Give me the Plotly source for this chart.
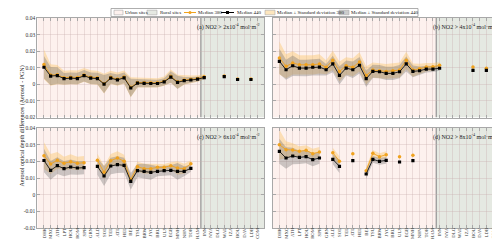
import plotly.graph_objects as go

stations = ["DHK", "MXC", "ATH", "LPT", "HOU", "ROM", "SPR", "GRN", "ALD", "SOL", "TEL",
            "ATL", "HEL", "BEI", "TSU", "BRW", "JYC", "BRU", "ULS", "EGB", "MNH", "NHV",
            "TOR", "HAM", "INN", "NYA", "DLG", "WAL", "IZA", "BOU", "DAV", "LDB", "COM"]
n_urban = 24
yticks = [0.04, 0.03, 0.02, 0.01, 0, -0.01, -0.02]
ytick_text = ["0.04", "0.03", "0.02", "0.01", "0", "-0.01", "-0.02"]
N = None

# Panel (a) NO2 > 2e-4
med440_a = [0.0103, 0.0050, 0.0053, 0.0034, 0.0037, 0.0035, 0.0052, 0.0037, 0.0035, 0.0001, 0.0037,
            0.0027, 0.0039, -0.0022, 0.0007, 0.0006, 0.0005, 0.0005, 0.0015, 0.0044, 0.0012, 0.0022,
            0.0026, 0.0031, 0.0041, N, N, 0.0047, N, 0.0029, N, 0.0029, N]
med380_a = [0.0120, 0.0056, 0.0058, 0.0040, 0.0043, 0.0041, 0.0057, 0.0043, 0.0040, 0.0004, 0.0042,
            0.0032, 0.0044, -0.0018, 0.0011, 0.0010, 0.0009, 0.0009, 0.0019, 0.0049, 0.0016, 0.0026,
            0.0030, 0.0035, 0.0046, N, N, 0.0050, N, 0.0032, N, 0.0032, N]
std440_a = [0.0068, 0.0055, 0.0050, 0.0035, 0.0035, 0.0035, 0.0035, 0.0035, 0.0035, 0.0055, 0.0032,
            0.0032, 0.0032, 0.0055, 0.0025, 0.0025, 0.0022, 0.0022, 0.0022, 0.0035, 0.0040, 0.0022,
            0.0018, 0.0014, 0.0010, N, N, 0, N, 0, N, 0, N]
std380_a = [0.0090, 0.0065, 0.0058, 0.0042, 0.0042, 0.0042, 0.0042, 0.0042, 0.0042, 0.0060, 0.0040,
            0.0040, 0.0040, 0.0060, 0.0030, 0.0030, 0.0028, 0.0028, 0.0028, 0.0040, 0.0042, 0.0028,
            0.0024, 0.0020, 0.0015, N, N, 0, N, 0, N, 0, N]

# Panel (b) NO2 > 4e-4
med440_b = [0.0139, 0.0088, 0.0112, 0.0098, 0.0098, 0.0103, 0.0104, 0.0088, 0.0123, 0.0054, 0.0098,
            0.0088, 0.0115, 0.0034, 0.0078, 0.0076, 0.0066, 0.0066, 0.0076, 0.0123, 0.0078, 0.0082,
            0.0092, 0.0092, 0.0097, N, N, N, N, 0.0084, N, 0.0084, N]
med380_b = [0.0159, 0.0109, 0.0129, 0.0118, 0.0118, 0.0118, 0.0123, 0.0103, 0.0145, 0.0078, 0.0112,
            0.0103, 0.0135, 0.0054, 0.0086, 0.0082, 0.0078, 0.0082, 0.0086, 0.0145, 0.0086, 0.0094,
            0.0104, 0.0106, 0.0115, N, N, N, N, 0.0104, N, 0.0097, N]
std440_b = [0.0075, 0.0060, 0.0062, 0.0050, 0.0050, 0.0050, 0.0050, 0.0035, 0.0050, 0.0055, 0.0045,
            0.0050, 0.0050, 0.0050, 0.0040, 0.0040, 0.0040, 0.0040, 0.0040, 0.0045, 0.0035, 0.0025,
            0.0020, 0.0018, 0.0015, N, N, N, N, 0, N, 0, N]
std380_b = [0.0100, 0.0072, 0.0070, 0.0058, 0.0058, 0.0058, 0.0058, 0.0042, 0.0058, 0.0060, 0.0052,
            0.0055, 0.0058, 0.0055, 0.0045, 0.0045, 0.0045, 0.0045, 0.0045, 0.0052, 0.0040, 0.0030,
            0.0025, 0.0022, 0.0018, N, N, N, N, 0, N, 0, N]

# Panel (c) NO2 > 6e-4
med440_c = [0.0205, 0.0146, 0.0174, 0.0156, 0.0166, 0.0160, 0.0162, N, 0.0170, 0.0112, 0.0172,
            0.0180, 0.0176, 0.0080, 0.0144, 0.0140, 0.0134, 0.0140, 0.0144, 0.0146, 0.0140, 0.0140,
            0.0158, N, N, N, N, N, N, N, N, N, N]
med380_c = [0.0234, 0.0184, 0.0206, 0.0188, 0.0198, 0.0188, 0.0192, N, 0.0206, 0.0134, 0.0204,
            0.0220, 0.0200, 0.0090, 0.0168, 0.0156, 0.0156, 0.0164, 0.0164, 0.0174, 0.0160, 0.0156,
            0.0186, N, N, N, N, N, N, N, N, N, N]
std440_c = [0.0070, 0.0056, 0.0050, 0.0045, 0.0045, 0.0040, 0.0040, N, 0.0050, 0.0060, 0.0050,
            0.0050, 0.0045, 0.0050, 0.0040, 0.0045, 0.0045, 0.0030, 0.0030, 0.0030, 0.0050, 0.0030,
            0.0020, N, N, N, N, N, N, N, N, N, N]
std380_c = [0.0080, 0.0060, 0.0050, 0.0040, 0.0045, 0.0040, 0.0040, N, 0.0040, 0.0040, 0.0040,
            0.0040, 0.0040, 0.0020, 0.0030, 0.0030, 0.0030, 0.0020, 0.0020, 0.0020, 0.0040, 0.0030,
            0.0020, N, N, N, N, N, N, N, N, N, N]

# Panel (d) NO2 > 8e-4
med440_d = [0.0260, 0.0220, 0.0232, 0.0224, 0.0228, 0.0210, 0.0220, N, 0.0212, 0.0170, N,
            0.0204, N, 0.0124, 0.0212, 0.0200, 0.0206, N, 0.0196, N, 0.0204, N,
            N, N, N, N, N, N, N, N, N, N, N]
med380_d = [0.0300, 0.0270, 0.0268, 0.0260, 0.0266, 0.0246, 0.0256, N, 0.0252, 0.0200, N,
            0.0246, N, 0.0144, 0.0248, 0.0228, 0.0240, N, 0.0228, N, 0.0236, N,
            N, N, N, N, N, N, N, N, N, N, N]
std440_d = [0.0075, 0.0065, 0.0050, 0.0040, 0.0040, 0.0040, 0.0035, N, 0.0030, 0.0040, N,
            0, N, 0.0030, 0.0020, 0.0020, 0.0020, N, 0, N, 0, N,
            N, N, N, N, N, N, N, N, N, N, N]
std380_d = [0.0090, 0.0050, 0.0040, 0.0030, 0.0030, 0.0030, 0.0030, N, 0.0030, 0.0030, N,
            0, N, 0.0020, 0.0020, 0.0020, 0.0020, N, 0, N, 0, N,
            N, N, N, N, N, N, N, N, N, N, N]

panels = [
    ("(a) NO2 > 2x10<sup>-4</sup> mol·m<sup>-2</sup>", med380_a, med440_a, std380_a, std440_a),
    ("(b) NO2 > 4x10<sup>-4</sup> mol·m<sup>-2</sup>", med380_b, med440_b, std380_b, std440_b),
    ("(c) NO2 > 6x10<sup>-4</sup> mol·m<sup>-2</sup>", med380_c, med440_c, std380_c, std440_c),
    ("(d) NO2 > 8x10<sup>-4</sup> mol·m<sup>-2</sup>", med380_d, med440_d, std380_d, std440_d),
]

W, H = 500, 242
FONT = "Liberation Serif"
ORANGE = "#f0a21e"
BAND380 = "rgba(250,200,110,0.45)"
BAND440 = "rgba(110,110,110,0.35)"
URBAN = "#fdf1ee"
RURAL = "#e5e9e2"
FRAME = "#a8a8a8"

xdom = [[29.3 / W, 256.3 / W], [264.7 / W, 491.7 / W]]
ydom = [[1 - 109.5 / H, 1 - 10 / H], [1 - 220 / H, 1 - 120 / H]]

xs = list(range(1, len(stations) + 1))


def runs(vals):
    out, cur = [], []
    for i, v in enumerate(vals):
        if v is None:
            if cur:
                out.append(cur)
            cur = []
        else:
            cur.append(i)
    if cur:
        out.append(cur)
    return out


def band(med, std):
    bx, by = [], []
    for r in runs(med):
        if len(r) < 2:
            continue
        bx += [xs[i] for i in r] + [xs[i] for i in reversed(r)] + [None]
        by += [med[i] + std[i] for i in r] + [med[i] - std[i] for i in reversed(r)] + [None]
    return bx, by


fig = go.Figure()
shapes = []
annotations = []
layout = {}

for k, (title, m380, m440, s380, s440) in enumerate(panels):
    row, col = divmod(k, 2)
    sfx = "" if k == 0 else str(k + 1)
    xa, ya = "x" + sfx, "y" + sfx
    bottom = row == 1
    left = col == 0
    layout["xaxis" + sfx] = dict(
        domain=xdom[col], anchor=ya, range=[0, len(stations) + 1],
        tickmode="array", tickvals=xs, ticktext=stations,
        showticklabels=bottom, tickangle=-90, ticklabelstandoff=-3,
        tickfont=dict(family=FONT, size=4.8, color="#333"),
        ticks="inside", ticklen=3, tickcolor=FRAME, tickwidth=0.7,
        showline=True, linecolor=FRAME, linewidth=1, mirror="allticks",
        showgrid=True, gridcolor="rgba(200,175,175,0.35)", gridwidth=0.7,
        zeroline=False, automargin=False,
    )
    layout["yaxis" + sfx] = dict(
        domain=ydom[row], anchor=xa, range=[-0.02, 0.04],
        tickmode="array", tickvals=yticks, ticktext=ytick_text,
        showticklabels=left, tickfont=dict(family=FONT, size=5.5, color="#333"),
        ticks="inside", ticklen=3, tickcolor=FRAME, tickwidth=0.7,
        showline=True, linecolor=FRAME, linewidth=1, mirror="allticks",
        showgrid=True, gridcolor="rgba(200,175,175,0.35)", gridwidth=0.7,
        zeroline=False, automargin=False,
    )
    shapes.append(dict(type="rect", xref=xa, yref=ya, x0=0, x1=n_urban + 0.5,
                       y0=-0.02, y1=0.04, fillcolor=URBAN, line=dict(width=0), layer="below"))
    shapes.append(dict(type="rect", xref=xa, yref=ya, x0=n_urban + 0.5,
                       x1=len(stations) + 1, y0=-0.02, y1=0.04, fillcolor=RURAL,
                       line=dict(width=0), layer="below"))
    shapes.append(dict(type="line", xref=xa, yref=ya, x0=n_urban + 0.5,
                       x1=n_urban + 0.5, y0=-0.02, y1=0.04, line=dict(color="#9a9a9a", width=1.3),
                       layer="below"))

    bx, by = band(m380, s380)
    fig.add_trace(go.Scatter(x=bx, y=by, xaxis=xa, yaxis=ya, fill="toself", mode="lines",
                             line=dict(width=0), fillcolor=BAND380, hoverinfo="skip",
                             showlegend=False))
    bx, by = band(m440, s440)
    fig.add_trace(go.Scatter(x=bx, y=by, xaxis=xa, yaxis=ya, fill="toself", mode="lines",
                             line=dict(width=0), fillcolor=BAND440, hoverinfo="skip",
                             showlegend=False))
    fig.add_trace(go.Scatter(x=xs, y=m380, xaxis=xa, yaxis=ya, mode="lines+markers",
                             line=dict(color=ORANGE, width=0.9),
                             marker=dict(symbol="circle", size=3.5, color=ORANGE),
                             connectgaps=False, showlegend=False))
    fig.add_trace(go.Scatter(x=xs, y=m440, xaxis=xa, yaxis=ya, mode="lines+markers",
                             line=dict(color="#111", width=0.9),
                             marker=dict(symbol="square", size=3.2, color="#000"),
                             connectgaps=False, showlegend=False))
    annotations.append(dict(xref="paper", yref="paper",
                            x=xdom[col][1] - 2 / W, y=ydom[row][1] - 2 / H,
                            xanchor="right", yanchor="top", showarrow=False, text=title,
                            font=dict(family=FONT, size=6, color="#222")))

# axis titles
annotations.append(dict(xref="paper", yref="paper", x=9 / W, y=1 - 118 / H, textangle=-90,
                        showarrow=False, text="Aerosol optical depth differences (Aerosol - PGN)",
                        font=dict(family=FONT, size=6, color="#222")))
for col in range(2):
    annotations.append(dict(xref="paper", yref="paper", x=(xdom[col][0] + xdom[col][1]) / 2,
                            y=1 - 235 / H, yanchor="middle", showarrow=False, text="Stations",
                            borderpad=0, font=dict(family=FONT, size=5, color="#222")))


def px(x):
    return x / W


def py(y):
    return 1 - y / H


# manual legend
legend_items = [
    ("box", URBAN, "Urban sites", 106, 115, 116),
    ("box", RURAL, "Rural sites", 139, 149, 151),
    ("line", ORANGE, "Median 380", 176, 188, 189),
    ("line", "#000", "Median 440", 213, 226, 228),
    ("box", BAND380, "Median ± Standard deviation 380", 257, 267, 268),
    ("box", BAND440, "Median ± Standard deviation 440", 331, 341, 342),
]
shapes.append(dict(type="rect", xref="paper", yref="paper", x0=px(103), x1=px(410),
                   y0=py(8.5), y1=py(0.5), fillcolor="white",
                   line=dict(color="#999", width=0.8), layer="above"))
for kind, color, label, x0, x1, xt in legend_items:
    yc = 4.5
    if kind == "box":
        shapes.append(dict(type="rect", xref="paper", yref="paper", x0=px(x0), x1=px(x1),
                           y0=py(6.8), y1=py(2.2), fillcolor=color,
                           line=dict(color="#aaa", width=0.6), layer="above"))
    else:
        shapes.append(dict(type="line", xref="paper", yref="paper", x0=px(x0), x1=px(x1),
                           y0=py(yc), y1=py(yc), line=dict(color=color, width=1), layer="above"))
        xm = (x0 + x1) / 2
        shapes.append(dict(type="rect" if color == "#000" else "circle", xref="paper",
                           yref="paper", x0=px(xm - 1.5), x1=px(xm + 1.5), y0=py(yc + 1.5),
                           y1=py(yc - 1.5), fillcolor=color, line=dict(width=0), layer="above"))
    annotations.append(dict(xref="paper", yref="paper", x=px(xt), y=py(yc), xanchor="left",
                            yanchor="middle", showarrow=False, text=label, borderpad=0,
                            font=dict(family=FONT, size=5, color="#222")))

fig.update_layout(
    width=W, height=H, margin=dict(l=0, r=0, t=0, b=0),
    paper_bgcolor="white", plot_bgcolor="white",
    shapes=shapes, annotations=annotations, showlegend=False,
    font=dict(family=FONT), **layout,
)

fig.write_html("out.html")
